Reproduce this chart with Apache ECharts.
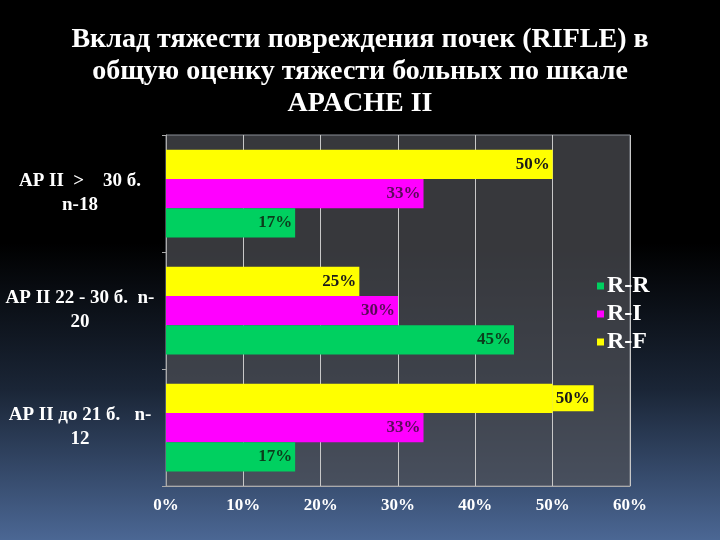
<!DOCTYPE html>
<html><head><meta charset="utf-8">
<script src="https://cdn.jsdelivr.net/npm/echarts@6/dist/echarts.min.js"></script>
<style>html,body{margin:0;padding:0;background:#000}#c{width:720px;height:540px}</style>
</head><body><div id="c"></div>
<script>
var titleText = "Вклад тяжести повреждения почек (RIFLE) в\nобщую оценку тяжести больных по шкале\nAPACHE II";
var categories = ["АР II до 21 б.   n-\n12", "АР II 22 - 30 б.  n-\n20", "АР II  >    30 б.\nn-18"];
var seriesNames = ["R-R", "R-I", "R-F"];
var valuesRR = [16.7, 45, 16.7];
var valuesRI = [33.3, 30, 33.3];
var valuesRF = [50, 25, 50];
var xTicks = [0, 10, 20, 30, 40, 50, 60];

var colors = ["#00d060", "#ff00ff", "#ffff00"];
var labelColors = ["#0b3d1c", "#5a0a5a", "#1a1a1a"];
var serif = "'Liberation Serif', 'DejaVu Serif', serif";

function mk(i, vals) {
  return {
    name: seriesNames[i], type: 'bar', barGap: '0%', barCategoryGap: '25%',
    itemStyle: { color: colors[i] },
    data: vals.map(function (v, k) {
      var d = { value: v };
      if (i === 2 && k === 0) {
        d.label = { position: 'right', distance: 0, backgroundColor: '#ffff00', padding: [5, 4, 4, 3] };
      }
      return d;
    }),
    label: {
      show: true, position: 'insideRight', distance: 3,
      formatter: function (p) { return Math.round(p.value) + '%'; },
      color: labelColors[i], fontFamily: serif, fontWeight: 'bold', fontSize: 17
    }
  };
}

var chart = echarts.init(document.getElementById('c'));
chart.setOption({
  backgroundColor: {
    type: 'linear', x: 0, y: 0, x2: 0, y2: 1,
    colorStops: [
      { offset: 0, color: '#000000' },
      { offset: 0.45, color: '#000000' },
      { offset: 0.72, color: '#1a2536' },
      { offset: 1, color: '#4b6794' }
    ]
  },
  animation: false,
  title: {
    text: titleText, left: 'center', top: 19,
    textStyle: { color: '#fff', fontFamily: serif, fontWeight: 'bold', fontSize: 28, lineHeight: 32 }
  },
  legend: {
    orient: 'vertical', left: 592, top: 269, itemGap: 4,
    icon: 'rect', itemWidth: 7, itemHeight: 7,
    data: seriesNames,
    textStyle: { color: '#fff', fontFamily: serif, fontSize: 24, fontWeight: 'bold', padding: [0, 0, 0, -2] }
  },
  grid: {
    left: 166, right: 90, top: 135, bottom: 54, show: true,
    backgroundColor: 'rgba(78,80,86,0.7)', borderColor: '#8a8e96', borderWidth: 1
  },
  xAxis: {
    type: 'value', min: 0, max: 60, interval: 10,
    axisLine: { show: true, lineStyle: { color: '#aaa' } },
    axisTick: { show: false },
    splitLine: { show: true, lineStyle: { color: '#c8c8c8', width: 1 } },
    axisLabel: {
      margin: 11, color: '#fff', fontFamily: serif, fontWeight: 'bold', fontSize: 17,
      formatter: function (v) { return xTicks.indexOf(v) >= 0 ? v + '%' : ''; }
    }
  },
  yAxis: {
    type: 'category', data: categories,
    axisLine: { show: true, lineStyle: { color: '#aaa' } },
    axisTick: { show: true, length: 4, lineStyle: { color: '#aaa' } },
    axisLabel: {
      margin: 86, align: 'center', color: '#fff', fontFamily: serif, fontWeight: 'bold',
      fontSize: 19, lineHeight: 24
    }
  },
  series: [mk(2, valuesRF), mk(1, valuesRI), mk(0, valuesRR)]
});
</script></body></html>
